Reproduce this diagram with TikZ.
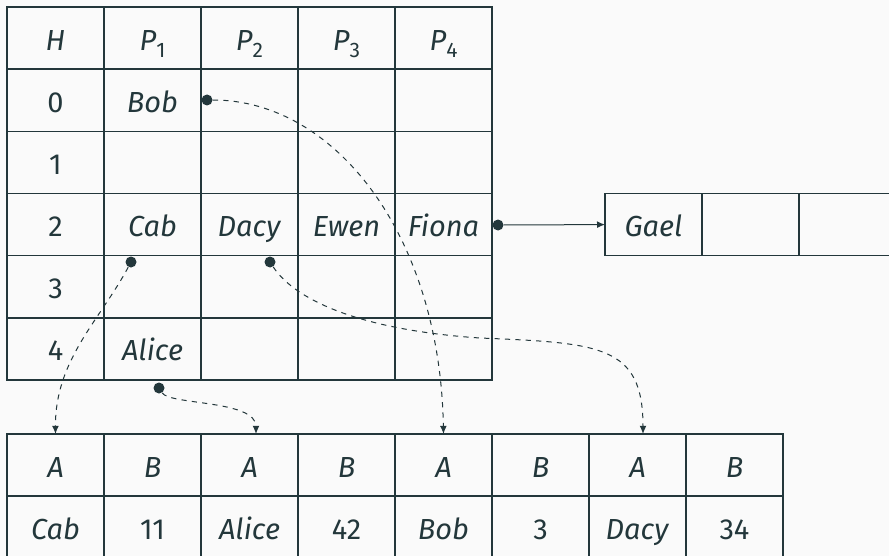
\documentclass[tikz,border=0pt]{standalone}
\usepackage{fontspec}
\setmainfont{Fira Sans}
\usetikzlibrary{arrows.meta}
\definecolor{mteal}{HTML}{23373B}
\definecolor{mbg}{HTML}{FAFAFA}
\newcommand{\Sb}[2]{\textit{#1}\raisebox{-0.26em}{\fontsize{10.5}{11}\selectfont #2}}
\begin{document}
\begin{tikzpicture}[x=0.5pt,y=-0.5pt,
  font=\fontsize{14.5}{17}\selectfont,
  every node/.style={text=mteal},
  cell/.style={draw=mteal, line width=0.7pt, minimum width=48.5pt, minimum height=31.1pt, inner sep=0pt, outer sep=0pt},
  lbl/.style={inner sep=0pt, text height=12.5pt, text depth=0.5pt},
  dot/.style={circle, fill=mteal, minimum size=5.5pt, inner sep=0pt},
  link/.style={draw=mteal, line width=0.5pt, dash pattern=on 2.6pt off 2.6pt, -{Latex[length=4pt,width=3.4pt]}},
  solidlink/.style={draw=mteal, line width=0.5pt, -{Latex[length=4pt,width=3.4pt]}}]
\fill[mbg] (0,0) rectangle (889,556);
\useasboundingbox (0,0) rectangle (889,556);
% top table
\foreach \r in {0,...,5}{
  \foreach \c in {1,...,5}{
    \node[cell] (t-\r-\c) at ({7+97*(\c-0.5)},{7+62.17*(\r+0.5)}) {};
  }
}
% header
\node[lbl] (hH) at (t-0-1) {\textit{H}};
\node[lbl] (hP1) at (t-0-2) {\Sb{P}{1}};
\node[lbl] (hP2) at (t-0-3) {\Sb{P}{2}};
\node[lbl] (hP3) at (t-0-4) {\Sb{P}{3}};
\node[lbl] (hP4) at (t-0-5) {\Sb{P}{4}};
\node[lbl] (k0) at (t-1-1) {0};
\node[lbl] (k1) at (t-2-1) {1};
\node[lbl] (k2) at (t-3-1) {2};
\node[lbl] (k3) at (t-4-1) {3};
\node[lbl] (k4) at (t-5-1) {4};
\node[lbl] (nbob) at (t-1-2) {\textit{Bob}};
\node[lbl] (ncab) at (t-3-2) {\textit{Cab}};
\node[lbl] (ndacy) at (t-3-3) {\textit{Dacy}};
\node[lbl] (newen) at (t-3-4) {\textit{Ewen}};
\node[lbl] (nfiona) at (t-3-5) {\textit{Fiona}};
\node[lbl] (nalice) at (t-5-2) {\textit{Alice}};
% overflow box
\foreach \c in {1,2,3}{
  \node[cell] (g-\c) at ({605+97*(\c-0.5)},{7+62.17*3.5}) {};
}
\node[lbl] (ngael) at (g-1) {\textit{Gael}};
% bottom table
\foreach \c in {1,...,8}{
  \node[cell] (b-1-\c) at ({7+97*(\c-0.5)},465) {};
  \node[cell] (b-2-\c) at ({7+97*(\c-0.5)},527) {};
}
\foreach \c/\t in {1/A,2/B,3/A,4/B,5/A,6/B,7/A,8/B}{
  \node[lbl] (bh-\c) at (b-1-\c) {\textit{\t}};
}
\node[lbl] (bcab) at (b-2-1) {\textit{Cab}};
\node[lbl] (b11) at (b-2-2) {11};
\node[lbl] (balice) at (b-2-3) {\textit{Alice}};
\node[lbl] (b42) at (b-2-4) {42};
\node[lbl] (bbob) at (b-2-5) {\textit{Bob}};
\node[lbl] (b3) at (b-2-6) {3};
\node[lbl] (bdacy) at (b-2-7) {\textit{Dacy}};
\node[lbl] (b34) at (b-2-8) {34};
% dots
\node[dot] (dbob) at (207,100) {};
\node[dot] (dfiona) at (498,225) {};
\node[dot] (dcab) at (131,262) {};
\node[dot] (ddacy) at (270,262) {};
\node[dot] (dalice) at (159,388) {};
% connectors
\draw[link] (dbob) .. controls (335,100) and (440,235) .. (b-1-5.north);
\draw[link] (dcab) .. controls (100,320) and (55,360) .. (b-1-1.north);
\draw[link] (ddacy) .. controls (295,300) and (360,330) .. (480,338) .. controls (600,343) and (643,345) .. ([xshift=2.75pt]b-1-7.north);
\draw[link] (dalice) .. controls (170,405) and (256,400) .. ([xshift=3.25pt]b-1-3.north);
\draw[solidlink] (dfiona) -- (g-1.west);
\end{tikzpicture}
\end{document}
